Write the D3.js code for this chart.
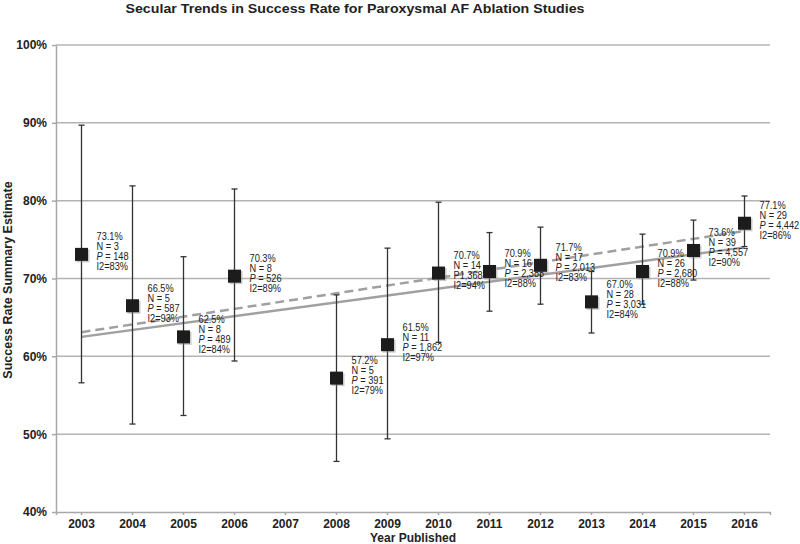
<!DOCTYPE html>
<html>
<head>
<meta charset="utf-8">
<script src="https://cdn.jsdelivr.net/npm/d3@7"></script>
<style>
  body { margin: 0; background: #fff; }
  svg { font-family: "Liberation Sans", Arial, sans-serif; }
</style>
</head>
<body>
<div id="chart"></div>
<script>
var years = ['2003','2004','2005','2006','2007','2008','2009','2010','2011','2012','2013','2014','2015','2016'];
var rates = [73.1, 66.5, 62.5, 70.3, null, 57.2, 61.5, 70.7, 70.9, 71.7, 67.0, 70.9, 73.6, 77.1];
var ciLow = [56.6, 51.3, 52.4, 59.4, null, 46.5, 49.4, 61.8, 65.8, 66.7, 63.0, 66.7, 69.8, 74.1];
var ciHigh = [89.7, 81.9, 72.8, 81.5, null, 67.9, 73.9, 79.8, 75.9, 76.6, 70.9, 75.7, 77.5, 80.6];
var nStudies = [3, 5, 8, 8, null, 5, 11, 14, 16, 17, 28, 26, 39, 29];
var patients = ['148', '587', '489', '526', null, '391', '1,862', '1,368', '2,383', '2,013', '3,031', '2,680', '4,557', '4,442'];
var i2 = [83, 93, 84, 89, null, 79, 97, 94, 88, 83, 84, 88, 90, 86];
var yTicks = [40, 50, 60, 70, 80, 90, 100];

// trend lines (from 2003 to 2016)
var trendYears = ['2003', '2016'];
var trendSolid = [62.5, 74.0];
var trendDashed = [63.1, 76.1];

var width = 800, height = 544;
var plotLeft = 56, plotRight = 770, plotTop = 45, plotBottom = 512;

var svg = d3.select("#chart").append("svg")
  .attr("width", width)
  .attr("height", height);

var x = d3.scaleBand().domain(years).range([plotLeft, plotRight]).padding(0);
var y = d3.scaleLinear().domain([40, 100]).range([plotBottom, plotTop]);
function cx(yr) { return x(yr) + x.bandwidth() / 2; }

// gridlines
svg.append("g")
  .selectAll("line")
  .data(yTicks.slice(1))
  .enter().append("line")
  .attr("x1", plotLeft)
  .attr("x2", plotRight)
  .attr("y1", d => y(d))
  .attr("y2", d => y(d))
  .style("stroke", "#b4b4b4")
  .style("stroke-width", "1.5px");

// y axis
var yAxis = svg.append("g")
  .attr("transform", "translate(" + plotLeft + ",0)")
  .call(d3.axisLeft(y).tickValues(yTicks).tickFormat(d => d + "%").tickSize(4).tickSizeOuter(0).tickPadding(5));
yAxis.selectAll("path, line").style("stroke", "#a8a8a8").style("stroke-width", "1.5px");
yAxis.selectAll("text")
  .style("font-size", "12px")
  .style("font-weight", "bold")
  .style("fill", "#222");

// x axis
var xAxis = svg.append("g")
  .attr("transform", "translate(0," + plotBottom + ")")
  .call(d3.axisBottom(x).tickSize(3).tickSizeOuter(3).tickPadding(4));
xAxis.selectAll("path, line").style("stroke", "#a8a8a8").style("stroke-width", "1.5px");
xAxis.selectAll("text")
  .style("font-size", "12px")
  .style("font-weight", "bold")
  .style("fill", "#222");

// trend lines
var line = d3.line()
  .x(d => cx(d.year))
  .y(d => y(d.value));

svg.append("path")
  .attr("d", line(trendYears.map((yr, i) => ({year: yr, value: trendSolid[i]}))))
  .style("fill", "none")
  .style("stroke", "#a0a0a0")
  .style("stroke-width", "2.5px");

svg.append("path")
  .attr("d", line(trendYears.map((yr, i) => ({year: yr, value: trendDashed[i]}))))
  .style("fill", "none")
  .style("stroke", "#a0a0a0")
  .style("stroke-width", "2.5px")
  .style("stroke-dasharray", "9,5");

var points = years.map(function(yr, i) {
  return {year: yr, rate: rates[i], lo: ciLow[i], hi: ciHigh[i], n: nStudies[i], p: patients[i], i2: i2[i]};
}).filter(d => d.rate !== null);

// error bars
var eb = svg.append("g").selectAll("g")
  .data(points)
  .enter().append("g")
  .style("stroke", "#333")
  .style("stroke-width", "1.3px");

eb.append("line")
  .attr("x1", d => cx(d.year)).attr("x2", d => cx(d.year))
  .attr("y1", d => y(d.lo)).attr("y2", d => y(d.hi));
eb.append("line")
  .attr("x1", d => cx(d.year) - 3).attr("x2", d => cx(d.year) + 3)
  .attr("y1", d => y(d.lo)).attr("y2", d => y(d.lo));
eb.append("line")
  .attr("x1", d => cx(d.year) - 3).attr("x2", d => cx(d.year) + 3)
  .attr("y1", d => y(d.hi)).attr("y2", d => y(d.hi));

// squares (with a faint shadow)
var sq = 13;
svg.append("g").selectAll("rect")
  .data(points)
  .enter().append("rect")
  .attr("x", d => cx(d.year) - sq / 2 + 1.5)
  .attr("y", d => y(d.rate) - sq / 2 + 1.5)
  .attr("width", sq).attr("height", sq)
  .style("fill", "#888")
  .style("opacity", 0.45);

svg.append("g").selectAll("rect")
  .data(points)
  .enter().append("rect")
  .attr("x", d => cx(d.year) - sq / 2)
  .attr("y", d => y(d.rate) - sq / 2)
  .attr("width", sq).attr("height", sq)
  .style("fill", "#1c1c1c");

// annotations
var ann = svg.append("g").selectAll("text")
  .data(points)
  .enter().append("text")
  .attr("transform", d => "translate(" + (cx(d.year) + 15) + "," + (y(d.rate) - 14) + ") scale(0.84,1)")
  .style("font-size", "11px")
  .style("fill", "#222");

ann.append("tspan").attr("x", 0).attr("y", 0).text(d => d.rate.toFixed(1) + "%");
ann.append("tspan").attr("x", 0).attr("y", 10).text(d => "N = " + d.n);
ann.each(function(d) {
  var t = d3.select(this);
  if (d.year === '2010') {
    t.append("tspan").attr("x", 0).attr("y", 20).text("P" + d.p);
  } else {
    t.append("tspan").attr("x", 0).attr("y", 20).style("font-style", "italic").text("P");
    t.append("tspan").text(" = " + d.p);
  }
});
ann.append("tspan").attr("x", 0).attr("y", 30).text(d => "I2=" + d.i2 + "%");

// title
svg.append("text")
  .attr("x", 355)
  .attr("y", 13)
  .attr("text-anchor", "middle")
  .attr("textLength", 459)
  .attr("lengthAdjust", "spacingAndGlyphs")
  .style("font-size", "13px")
  .style("font-weight", "bold")
  .style("fill", "#222")
  .text("Secular Trends in Success Rate for Paroxysmal AF Ablation Studies");

// axis titles
svg.append("text")
  .attr("x", 413)
  .attr("y", 542)
  .attr("text-anchor", "middle")
  .style("font-size", "12px")
  .style("font-weight", "bold")
  .style("fill", "#222")
  .text("Year Published");

svg.append("text")
  .attr("transform", "translate(11.5,280) rotate(-90)")
  .attr("text-anchor", "middle")
  .style("font-size", "12.5px")
  .style("font-weight", "bold")
  .style("fill", "#222")
  .text("Success Rate Summary Estimate");
</script>
</body>
</html>
